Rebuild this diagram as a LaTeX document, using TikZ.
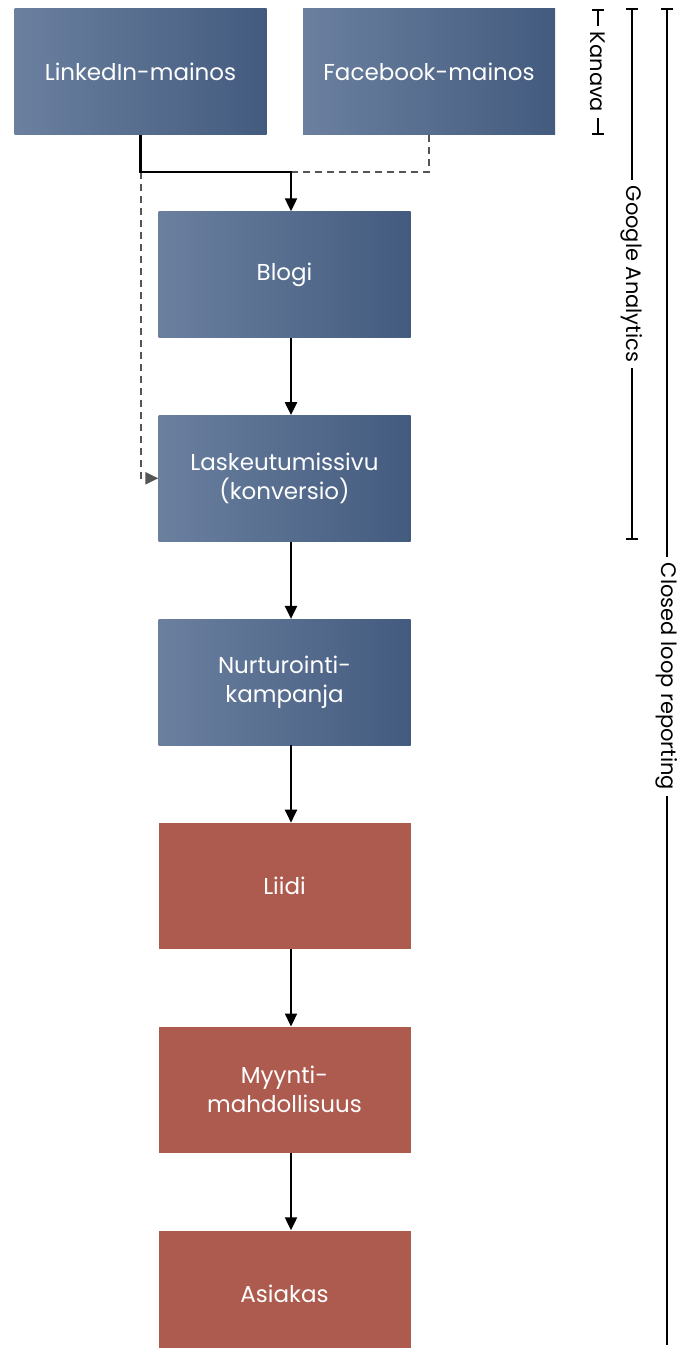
\documentclass[tikz,border=0pt]{standalone}
\usepackage{fontspec}
\setmainfont{Poppins}
\usetikzlibrary{arrows.meta,positioning}
\definecolor{slateL}{HTML}{6B809F}
\definecolor{slateR}{HTML}{435B7F}
\definecolor{brick}{HTML}{AD5B4F}
\definecolor{dashgray}{HTML}{555555}

\tikzset{
  box/.style={minimum width=252pt,minimum height=126pt,inner sep=0pt,text=white,
    align=center,font=\fontsize{23}{29}\selectfont},
  webbox/.style={box,left color=slateL,right color=slateR},
  salesbox/.style={box,fill=brick},
  flow/.style={line width=2.2pt,-{Triangle[length=13pt,width=12pt]}},
  track/.style={dash pattern=on 7pt off 5pt,line width=2pt,dashgray},
  bracket/.style={line width=2pt},
  sidelabel/.style={fill=white,rotate=-90,inner sep=6pt,font=\fontsize{21}{24}\selectfont}
}

\begin{document}
\begin{tikzpicture}[x=1pt,y=1pt,node distance=77.4pt]
\useasboundingbox (0,0) rectangle (692,-1348);

% channels
\node[webbox] (linkedin) at (140.5,-71.5) {LinkedIn-mainos};
\node[webbox] (facebook) at (429,-71.5) {Facebook-mainos};

% funnel
\node[webbox] (blogi) at (284.5,-274.5) {Blogi};
\node[webbox,below=of blogi] (lasku) {Laskeutumissivu\\(konversio)};
\node[webbox,below=of lasku] (nurtur) {Nurturointi-\\kampanja};
\node[salesbox,below=of nurtur] (liidi) {Liidi};
\node[salesbox,below=of liidi] (myynti) {Myynti-\\mahdollisuus};
\node[salesbox,below=of myynti] (asiakas) {Asiakas};

% connectors
\coordinate (split) at (linkedin.south |- 0,-172);
\coordinate (join) at ([xshift=6.5pt]blogi.north |- split);
\draw[track] (facebook.south) |- (join);
\draw[track,-{Triangle[length=13pt,width=12pt]}] (split) |- (lasku.west);
\draw[flow] (linkedin.south) |- (join) -- ([xshift=6.5pt]blogi.north);
\draw[flow] ([xshift=6.5pt]blogi.south) -- ([xshift=6.5pt]lasku.north);
\draw[flow] ([xshift=6.5pt]lasku.south) -- ([xshift=6.5pt]nurtur.north);
\draw[flow] ([xshift=6.5pt]nurtur.south) -- ([xshift=6.5pt]liidi.north);
\draw[flow] ([xshift=6.5pt]liidi.south) -- ([xshift=6.5pt]myynti.north);
\draw[flow] ([xshift=6.5pt]myynti.south) -- ([xshift=6.5pt]asiakas.north);

% tracking ranges
\coordinate (kanavaTop) at (598,-9);
\coordinate (kanavaBot) at (598,-135);
\coordinate (gaTop) at (632,-8);
\coordinate (gaBot) at (632,-540);
\coordinate (loopTop) at (667,-8);
\coordinate (loopBot) at (667,-1345);
\draw[bracket,{Bar[width=12pt]}-{Bar[width=12pt]}] (kanavaTop) -- node[sidelabel] {Kanava} (kanavaBot);
\draw[bracket,{Bar[width=12pt]}-{Bar[width=12pt]}] (gaTop) -- node[sidelabel] {Google Analytics} (gaBot);
\draw[bracket,{Bar[width=12pt]}-] (loopTop) -- node[sidelabel] {Closed loop reporting} (loopBot);
\end{tikzpicture}
\end{document}
